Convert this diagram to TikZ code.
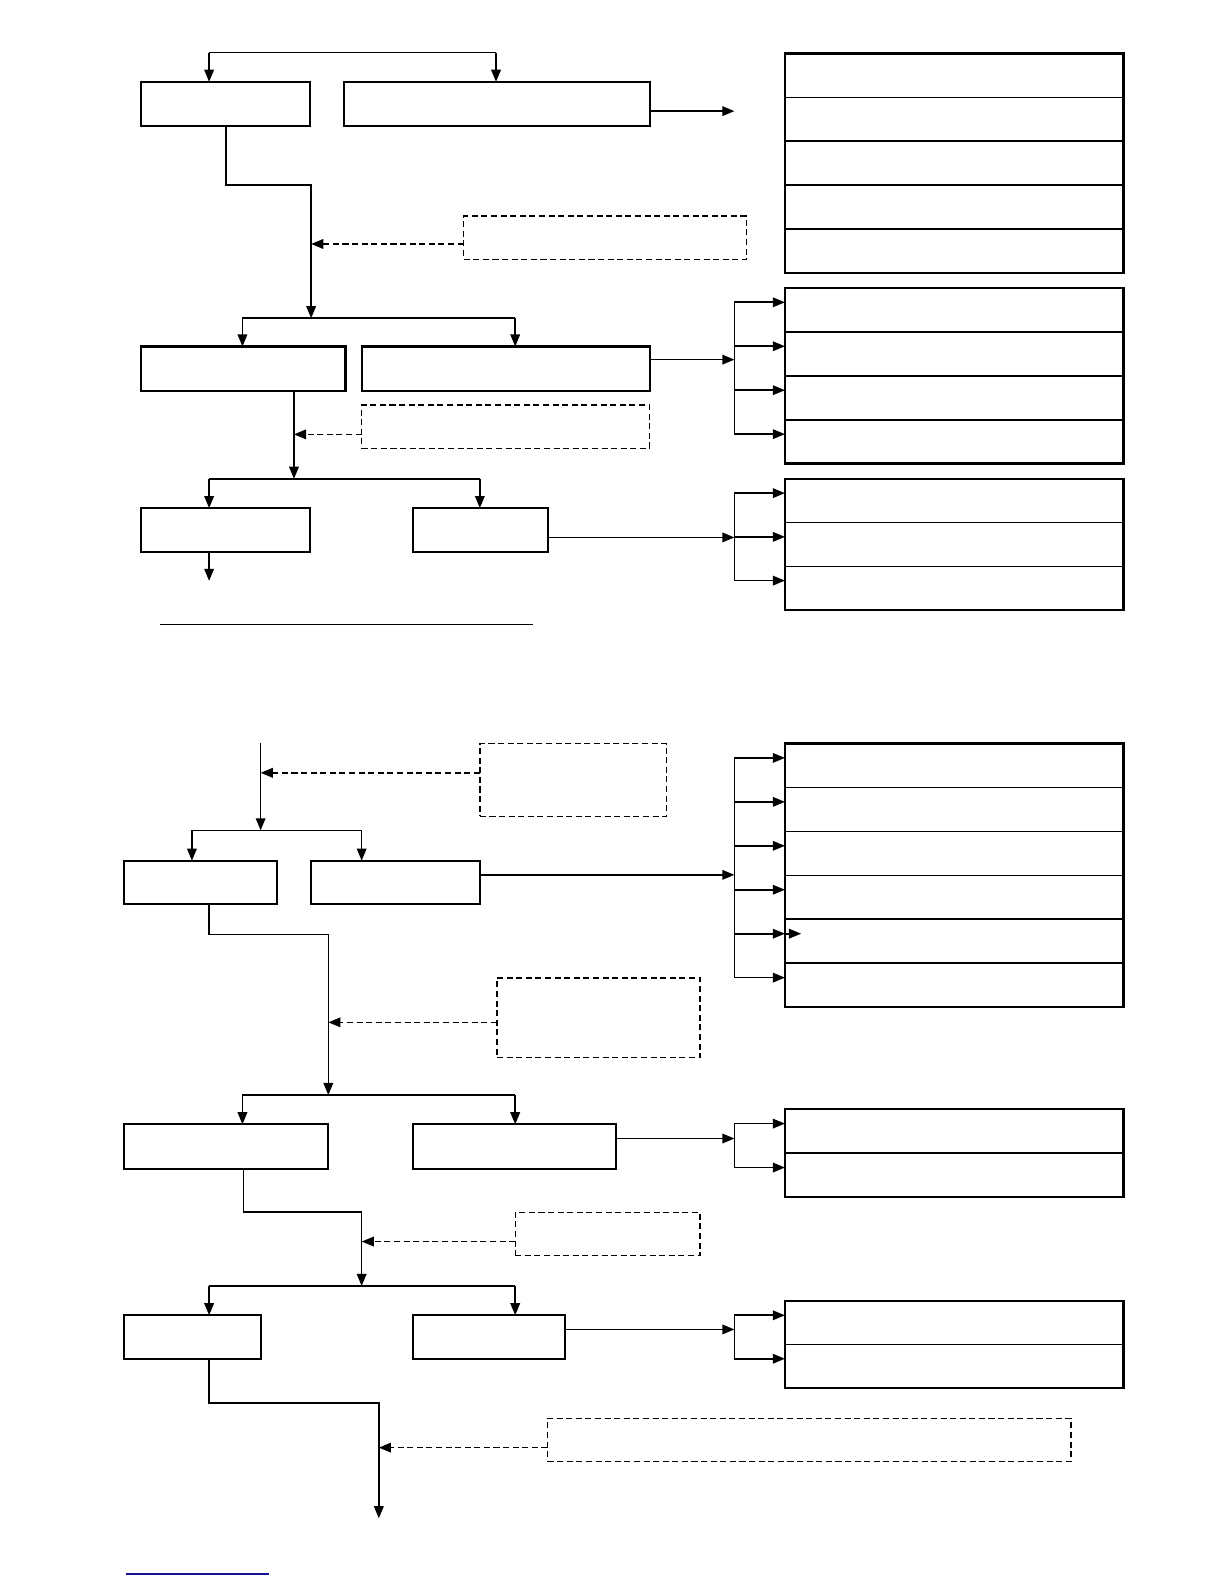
\documentclass[tikz,border=0pt]{standalone}
\usepackage{tikz}
\usetikzlibrary{calc}
\usetikzlibrary{arrows.meta}
\usetikzlibrary{positioning}
\definecolor{linkblue}{RGB}{20,20,150}
\tikzset{
    flowarrow/.style={
        line width=1.6pt,
        black,
        -{Triangle[length=12pt, width=9.5pt]}
    },
    dasharrow/.style={
        flowarrow,
        dash pattern=on 6pt off 3.5pt
    },
    flowline/.style={line width=1.6pt, black},
    stepbox/.style={draw, line width=2pt, inner sep=0pt, outer sep=0pt, anchor=north west},
    notebox/.style={stepbox, line width=1.4pt, dash pattern=on 6pt off 3.5pt},
    rowbox/.style={stepbox, line width=1.6pt, minimum width=335pt}
}

\begin{document}
\begin{tikzpicture}[x=1pt,y=-1pt]
	\useasboundingbox (0,0) rectangle (1212,1568);
	
	% 上半部分 方框
	\node[stepbox, minimum width=167pt, minimum height=44pt] (a1) at (140,81) {};
	\node[stepbox, minimum width=302pt, minimum height=44pt] (a2) at (341,81) {};
	\node[notebox, minimum width=280pt, minimum height=43pt] (d1) at (459,214) {};
	\node[stepbox, minimum width=202pt, minimum height=44pt] (b1) at (140,343) {};
	\node[stepbox, minimum width=285pt, minimum height=44pt] (b2) at (358,343) {};
	\node[notebox, minimum width=285pt, minimum height=43pt] (d2) at (358,401) {};
	\node[stepbox, minimum width=167pt, minimum height=43pt] (c1) at (140,503) {};
	\node[stepbox, minimum width=133pt, minimum height=43pt] (c2) at (409,503) {};
	
	% 右侧表格
	\foreach \i in {1,...,5}
		\node[rowbox, minimum height=43.4pt] (s1-\i) at (777,{53+(\i-1)*43.4}) {};
	\foreach \i in {1,...,4}
		\node[rowbox, minimum height=43.5pt] (s2-\i) at (777,{285+(\i-1)*43.5}) {};
	\foreach \i in {1,...,3}
		\node[rowbox, minimum height=43.3pt] (s3-\i) at (777,{474+(\i-1)*43.3}) {};
	\draw[line width=2.4pt] (s1-1.north west) rectangle (s1-5.south east);
	\draw[line width=2.4pt] (s2-1.north west) rectangle (s2-4.south east);
	\draw[line width=2.4pt] (s3-1.north west) rectangle (s3-3.south east);
	
	\path
	(207,52) coordinate (t0)
	(491,52) coordinate (t1)
	(727,110) coordinate (o1)
	(308,315) coordinate (j1)
	(240,315) coordinate (j1l)
	(510,315) coordinate (j1r)
	(727,356) coordinate (f2)
	(291,474) coordinate (j2)
	(207,474) coordinate (j2l)
	(475,474) coordinate (j2r)
	(727,532) coordinate (f3)
	(207,575) coordinate (o2);
	
	% 实线箭头
	\draw[flowline] (t0) -- (t1);
	\draw[flowarrow] (t0) -- (t0 |- a1.north);
	\draw[flowarrow] (t1) -- (t1 |- a2.north);
	\draw[flowarrow] (a2.east |- o1) -- (o1);
	\draw[flowarrow] (a1.south) -- ++(0,58) -| (j1);
	\draw[flowline] (j1l) -- (j1r);
	\draw[flowarrow] (j1l) -- (j1l |- b1.north);
	\draw[flowarrow] (j1r) -- (j1r |- b2.north);
	\draw[flowarrow] (b2.east |- f2) -- (f2);
	\draw[flowline] ([yshift=7.5pt]s2-1.west -| f2) -- ([yshift=7.5pt]s2-4.west -| f2);
	\foreach \i in {1,...,4}
		\draw[flowarrow] ([yshift=7.5pt]s2-\i.west -| f2) -- ([yshift=7.5pt]s2-\i.west);
	\draw[flowarrow] (j2 |- b1.south) -- (j2);
	\draw[flowline] (j2l) -- (j2r);
	\draw[flowarrow] (j2l) -- (j2l |- c1.north);
	\draw[flowarrow] (j2r) -- (j2r |- c2.north);
	\draw[flowarrow] (o2 |- c1.south) -- (o2);
	\draw[flowarrow] (c2.east |- f3) -- (f3);
	\draw[flowline] ([yshift=7.5pt]s3-1.west -| f3) -- ([yshift=7.5pt]s3-3.west -| f3);
	\foreach \i in {1,...,3}
		\draw[flowarrow] ([yshift=7.5pt]s3-\i.west -| f3) -- ([yshift=7.5pt]s3-\i.west);
	
	% 虚线箭头
	\draw[dasharrow] ([yshift=-6pt]d1.west) -- ([yshift=-6pt]d1.west -| j1);
	\draw[dasharrow] ([yshift=-7.5pt]d2.west) -- ([yshift=-7.5pt]d2.west -| j2);
	
	% 分隔线
	\draw[line width=1.2pt] (158,618) -- (528,618);
	
	% 下半部分 方框
	\node[notebox, minimum width=185pt, minimum height=72pt] (d3) at (475,736) {};
	\node[stepbox, minimum width=151pt, minimum height=43pt] (e1) at (123,852) {};
	\node[stepbox, minimum width=167pt, minimum height=43pt] (e2) at (308,852) {};
	\node[notebox, minimum width=201pt, minimum height=79pt] (d4) at (492,968) {};
	\node[stepbox, minimum width=202pt, minimum height=44pt] (f1) at (123,1113) {};
	\node[stepbox, minimum width=201pt, minimum height=44pt] (f2box) at (409,1113) {};
	\node[notebox, minimum width=183pt, minimum height=43pt] (d5) at (510,1200) {};
	\node[stepbox, minimum width=135pt, minimum height=43pt] (g1) at (123,1302) {};
	\node[stepbox, minimum width=150pt, minimum height=43pt] (g2) at (409,1302) {};
	\node[notebox, minimum width=518pt, minimum height=43pt] (d6) at (542,1404) {};
	
	\foreach \i in {1,...,6}
		\node[rowbox, minimum height=43.5pt] (s4-\i) at (777,{736+(\i-1)*43.5}) {};
	\foreach \i in {1,...,2}
		\node[rowbox, minimum height=43.5pt] (s5-\i) at (777,{1098+(\i-1)*43.5}) {};
	\foreach \i in {1,...,2}
		\node[rowbox, minimum height=43pt] (s6-\i) at (777,{1288+(\i-1)*43}) {};
	\draw[line width=2.4pt] (s4-1.north west) rectangle (s4-6.south east);
	\draw[line width=2.4pt] (s5-1.north west) rectangle (s5-2.south east);
	\draw[line width=2.4pt] (s6-1.north west) rectangle (s6-2.south east);
	
	\path
	(258,735) coordinate (k0)
	(258,822) coordinate (j3)
	(190,822) coordinate (j3l)
	(358,822) coordinate (j3r)
	(727,866) coordinate (f4)
	(207,895) coordinate (e1d)
	(325,1084) coordinate (j4)
	(240,1084) coordinate (j4l)
	(510,1084) coordinate (j4r)
	(727,1127) coordinate (f5)
	(241,1157) coordinate (f1d)
	(358,1273) coordinate (j5)
	(207,1273) coordinate (j5l)
	(510,1273) coordinate (j5r)
	(727,1316) coordinate (f6)
	(375,1503) coordinate (k1);
	
	% 实线箭头
	\draw[flowarrow] (k0) -- (j3);
	\draw[flowline] (j3l) -- (j3r);
	\draw[flowarrow] (j3l) -- (j3l |- e1.north);
	\draw[flowarrow] (j3r) -- (j3r |- e2.north);
	\draw[flowarrow] (e2.east |- f4) -- (f4);
	\draw[flowline] ([yshift=7.5pt]s4-1.west -| f4) -- ([yshift=7.5pt]s4-6.west -| f4);
	\foreach \i in {1,...,6}
		\draw[flowarrow] ([yshift=7.5pt]s4-\i.west -| f4) -- ([yshift=7.5pt]s4-\i.west);
	\draw[flowarrow] ([yshift=7.5pt]s4-5.west) -- ++(16,0);
	\draw[flowarrow] (e1d) -- ++(0,30) -| (j4);
	\draw[flowline] (j4l) -- (j4r);
	\draw[flowarrow] (j4l) -- (j4l |- f1.north);
	\draw[flowarrow] (j4r) -- (j4r |- f2box.north);
	\draw[flowarrow] (f2box.east |- f5) -- (f5);
	\draw[flowline] ([yshift=7.5pt]s5-1.west -| f5) -- ([yshift=7.5pt]s5-2.west -| f5);
	\foreach \i in {1,...,2}
		\draw[flowarrow] ([yshift=7.5pt]s5-\i.west -| f5) -- ([yshift=7.5pt]s5-\i.west);
	\draw[flowarrow] (f1d) -- ++(0,43) -| (j5);
	\draw[flowline] (j5l) -- (j5r);
	\draw[flowarrow] (j5l) -- (j5l |- g1.north);
	\draw[flowarrow] (j5r) -- (j5r |- g2.north);
	\draw[flowarrow] (g2.east |- f6) -- (f6);
	\draw[flowline] ([yshift=7.5pt]s6-1.west -| f6) -- ([yshift=7.5pt]s6-2.west -| f6);
	\foreach \i in {1,...,2}
		\draw[flowarrow] ([yshift=7.5pt]s6-\i.west -| f6) -- ([yshift=7.5pt]s6-\i.west);
	\draw[flowarrow] (207,1345) -- (207,1389) -| (k1);
	
	% 虚线箭头
	\draw[dasharrow] ([yshift=7pt]d3.west) -- ([yshift=7pt]d3.west -| k0);
	\draw[dasharrow] ([yshift=-4.5pt]d4.west) -- ([yshift=-4.5pt]d4.west -| j4);
	\draw[dasharrow] ([yshift=-7.5pt]d5.west) -- ([yshift=-7.5pt]d5.west -| j5);
	\draw[dasharrow] ([yshift=-7.5pt]d6.west) -- ([yshift=-7.5pt]d6.west -| k1);
	
	% 蓝色下划线
	\draw[linkblue, line width=1.2pt] (125,1558) -- (266,1558);
\end{tikzpicture}
\end{document}
